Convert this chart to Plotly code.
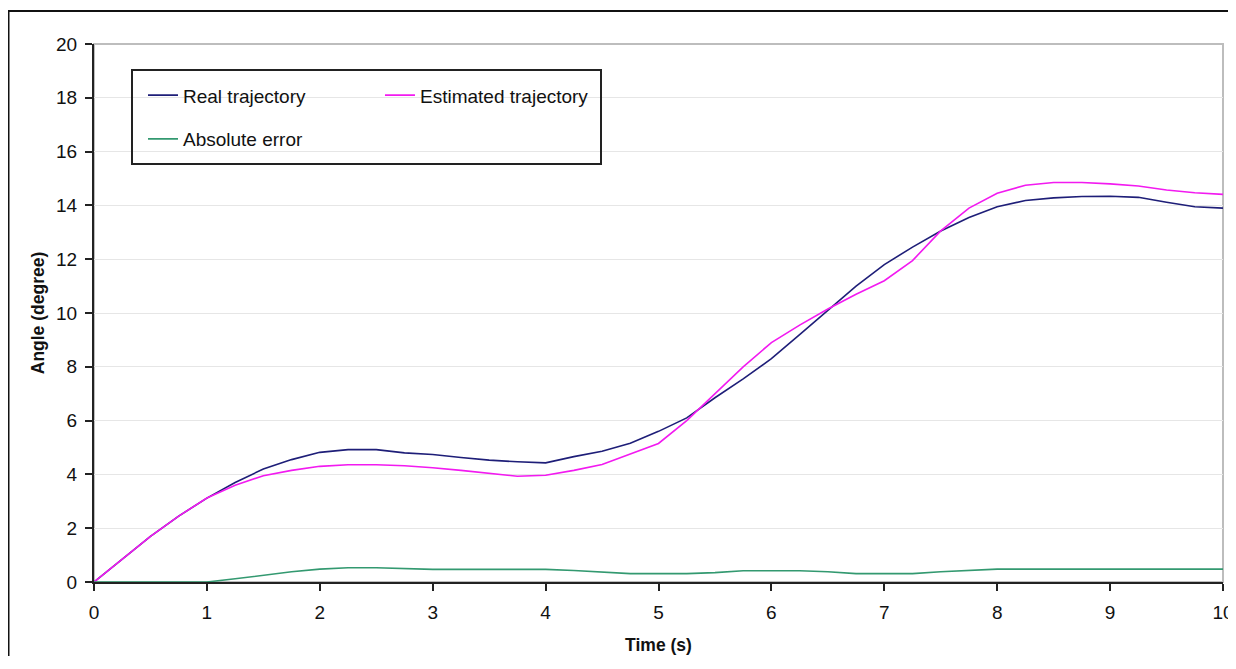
import plotly.graph_objects as go

time_s = [0, 0.25, 0.5, 0.75, 1.0, 1.25, 1.5, 1.75, 2.0, 2.25, 2.5, 2.75, 3.0, 3.25, 3.5, 3.75, 4.0,
          4.25, 4.5, 4.75, 5.0, 5.25, 5.5, 5.75, 6.0, 6.25, 6.5, 6.75, 7.0, 7.25, 7.5, 7.75, 8.0,
          8.25, 8.5, 8.75, 9.0, 9.25, 9.5, 9.75, 10.0]

real_traj = [0, 0.85, 1.7, 2.45, 3.12, 3.7, 4.2, 4.55, 4.82, 4.92, 4.92, 4.8, 4.74, 4.63, 4.53, 4.47, 4.43,
             4.66, 4.86, 5.16, 5.6, 6.1, 6.85, 7.55, 8.3, 9.2, 10.1, 11.0, 11.8, 12.45, 13.05, 13.55, 13.95,
             14.18, 14.28, 14.33, 14.34, 14.3, 14.12, 13.95, 13.9]

est_traj = [0, 0.85, 1.7, 2.45, 3.12, 3.6, 3.95, 4.15, 4.3, 4.36, 4.36, 4.32, 4.25, 4.15, 4.05, 3.93, 3.97,
            4.15, 4.37, 4.75, 5.15, 6.0, 7.0, 8.0, 8.9, 9.55, 10.15, 10.7, 11.2, 11.95, 13.05, 13.9, 14.45,
            14.75, 14.85, 14.85, 14.8, 14.72, 14.57, 14.47, 14.41]

abs_err = [0, 0, 0, 0, 0, 0.12, 0.26, 0.38, 0.48, 0.53, 0.53, 0.5, 0.47, 0.47, 0.47, 0.47, 0.47,
           0.43, 0.38, 0.31, 0.31, 0.31, 0.35, 0.42, 0.42, 0.42, 0.38, 0.31, 0.31, 0.31, 0.38, 0.44, 0.48,
           0.48, 0.48, 0.48, 0.48, 0.48, 0.48, 0.48, 0.48]

x_ticks = list(range(0, 11))
y_ticks = list(range(0, 21, 2))

FONT = "Liberation Sans, Arial, sans-serif"

# figure geometry (the page body adds an 8px offset)
W, H = 1228, 648
ML, MR, MT, MB = 86, 13, 36, 74
PW, PH = W - ML - MR, H - MT - MB


def px_x(fx):
    return (fx - ML) / PW


def px_y(fy):
    return (H - MB - fy) / PH


fig = go.Figure()
fig.add_trace(go.Scatter(x=time_s, y=real_traj, mode="lines", name="Real trajectory",
                         line=dict(color="#1E1E78", width=1.6), legend="legend", legendgroup="a"))
fig.add_trace(go.Scatter(x=time_s, y=est_traj, mode="lines", name="Estimated trajectory",
                         line=dict(color="#F21AF0", width=1.6), legend="legend2", legendgroup="b"))
fig.add_trace(go.Scatter(x=time_s, y=abs_err, mode="lines", name="Absolute error",
                         line=dict(color="#339970", width=1.6), legend="legend", legendgroup="c"))

legend_common = dict(
    bgcolor="rgba(0,0,0,0)", borderwidth=0,
    font=dict(family=FONT, size=19, color="#111"),
    xanchor="left", yanchor="top", orientation="v", tracegroupgap=16,
)

fig.update_layout(
    width=W, height=H,
    margin=dict(l=ML, r=MR, t=MT, b=MB),
    paper_bgcolor="white", plot_bgcolor="white",
    font=dict(family=FONT, color="#111"),
    showlegend=True,
    legend=dict(x=0.0434, y=0.94, **legend_common),
    legend2=dict(x=0.2533, y=0.94, **legend_common),
    xaxis=dict(
        range=[0, 10], tickvals=x_ticks, ticktext=[str(v) for v in x_ticks],
        showgrid=False, zeroline=False, automargin=False,
        showline=True, linecolor="#222", linewidth=2,
        ticks="outside", ticklen=7, tickwidth=2, tickcolor="#222",
        ticklabelstandoff=5,
        tickfont=dict(family=FONT, size=19, color="#111"),
        title=dict(text="<b>Time (s)</b>", font=dict(family=FONT, size=17.5, color="#111"), standoff=17),
    ),
    yaxis=dict(
        range=[0, 20], tickvals=y_ticks, ticktext=[str(v) for v in y_ticks],
        showgrid=True, gridcolor="#E6E6E6", gridwidth=1, zeroline=False, automargin=False,
        showline=True, linecolor="#222", linewidth=2,
        ticks="outside", ticklen=7, tickwidth=2, tickcolor="#222",
        ticklabelstandoff=4,
        tickfont=dict(family=FONT, size=19, color="#111"),
        title=dict(text="<b>Angle (degree)</b>", font=dict(family=FONT, size=17.5, color="#111"), standoff=7),
    ),
    shapes=[
        # plot-area frame (gray top/right)
        dict(type="rect", xref="paper", yref="paper", x0=0, x1=1, y0=0, y1=1,
             line=dict(color="#BDBDBD", width=2), layer="below"),
        # legend box
        dict(type="rect", xref="paper", yref="paper",
             x0=px_x(124), x1=px_x(593), y0=px_y(156), y1=px_y(62),
             line=dict(color="#222", width=2), fillcolor="rgba(0,0,0,0)", layer="above"),
        # outer chart border
        dict(type="rect", xref="paper", yref="paper",
             x0=px_x(0.5), x1=px_x(W + 20), y0=px_y(H + 20), y1=px_y(3),
             line=dict(color="#111", width=2), layer="above"),
    ],
)

fig.write_html("out.html")
